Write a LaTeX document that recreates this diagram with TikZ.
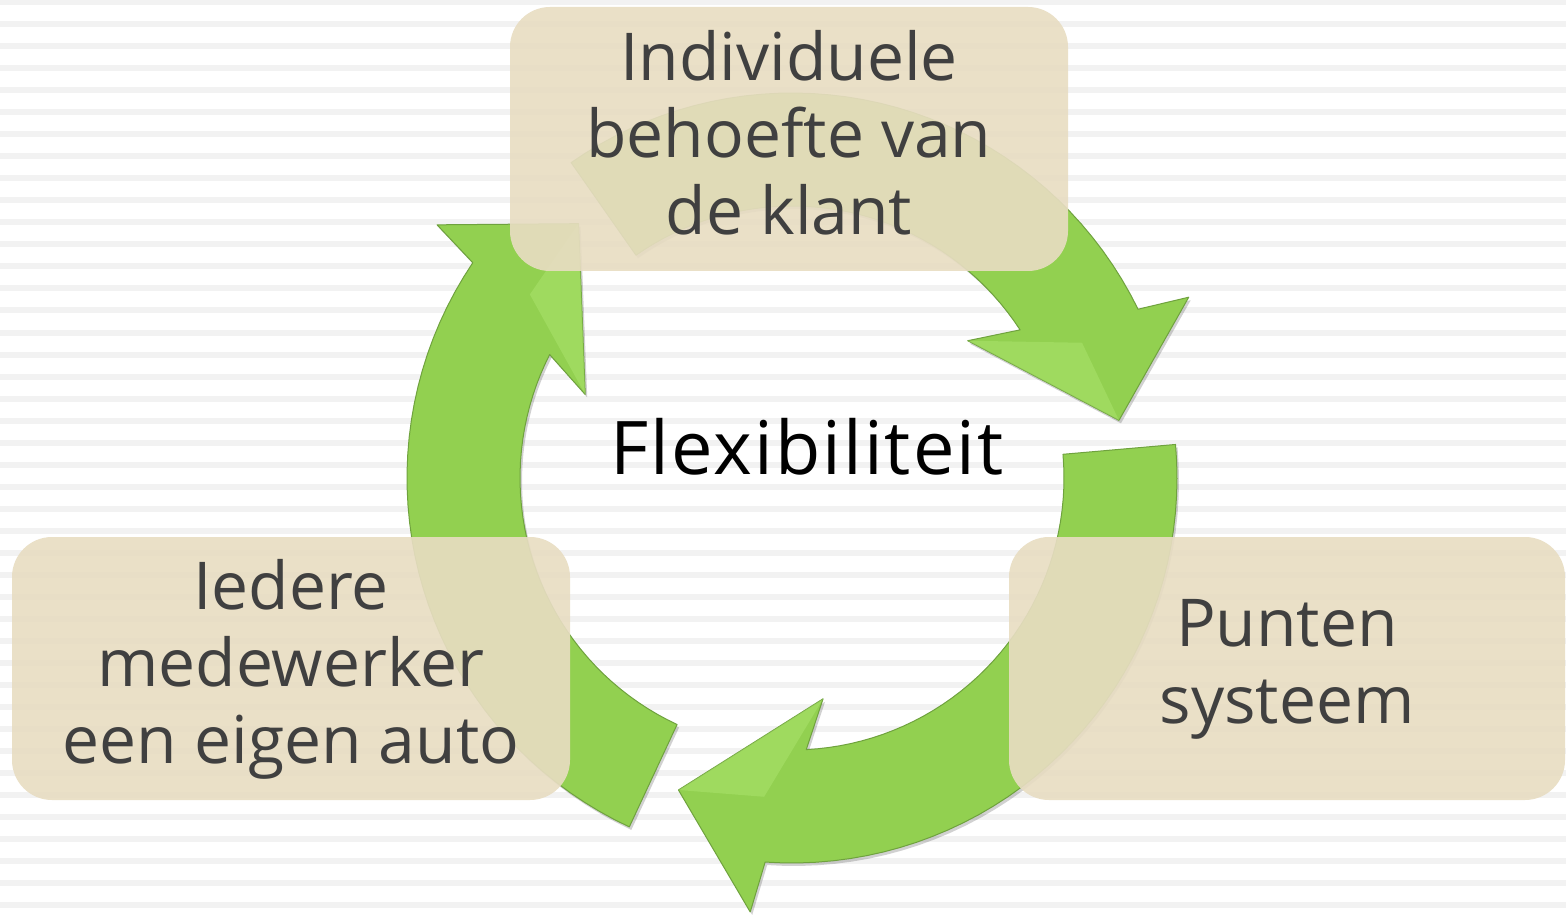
\documentclass[tikz,border=0pt]{standalone}
\usepackage{fontspec}
\newfontfamily\opensans{Open Sans}
\newfontfamily\opensanswide[LetterSpace=2.8]{Open Sans}
\definecolor{stripegray}{HTML}{F2F2F2}
\definecolor{ringgreen}{HTML}{92D050}
\definecolor{ringlight}{HTML}{B8EE7C}
\definecolor{ringedge}{HTML}{6FA23E}
\definecolor{boxbeige}{RGB}{232,221,194}
\definecolor{boxtext}{HTML}{404040}
\begin{document}
\begin{tikzpicture}[x=1pt,y=-1pt,
    box/.style={fill=boxbeige,fill opacity=.91,text opacity=1,rounded corners=40pt,
      minimum width=558pt,minimum height=264pt,align=center,text=boxtext,
      text depth=14pt,font=\opensans\fontsize{66}{77}\selectfont},
    ring/.style={fill=ringgreen,draw=ringedge,line width=1pt,line join=round,
      preaction={fill=black,opacity=.18,transform canvas={shift={(2pt,-3pt)}}}}]
  \useasboundingbox (0,0) rectangle (1566,917);
  \fill[white] (0,0) rectangle (1566,917);
  \foreach \k in {0,...,41}
    \fill[stripegray] (0,22*\k-0.5) rectangle (1566,22*\k+5.5);
  % three arrows round the centre
  \begin{scope}[shift={(792,478)}]
    \foreach \o in {0,120,240}{
      \pgfmathsetmacro\ta{\o-125}
      \pgfmathsetmacro\tb{\o-33}
      \pgfmathsetmacro\tc{\o-26}
      \path[ring] (\ta:272) -- plot[domain=\ta:\tb,samples=40] (\x:272)
        -- (\o-38:223) -- (\o-10:332) -- (\o-24.5:436) -- (\tc:385)
        -- plot[domain=\tc:\ta,samples=40] (\x:385) -- cycle;
      \fill[ringlight,opacity=.35] (\o-38:223) -- (\o-10:332) -- (\o-25:320) -- cycle;
    }
  \end{scope}
  \node[box] (klant) at (789,139) {Individuele\\behoefte van\\de klant};
  \node[box,minimum height=263pt] (auto) at (291,668.5) {Iedere\\medewerker\\een eigen auto};
  \node[box,minimum width=556pt,minimum height=263pt] (punten) at (1287,668.5) {Punten\\systeem};
  \node[font=\opensanswide\fontsize{74}{80}\selectfont,anchor=base] (flex) at (807,474) {Flexibiliteit};
\end{tikzpicture}
\end{document}
